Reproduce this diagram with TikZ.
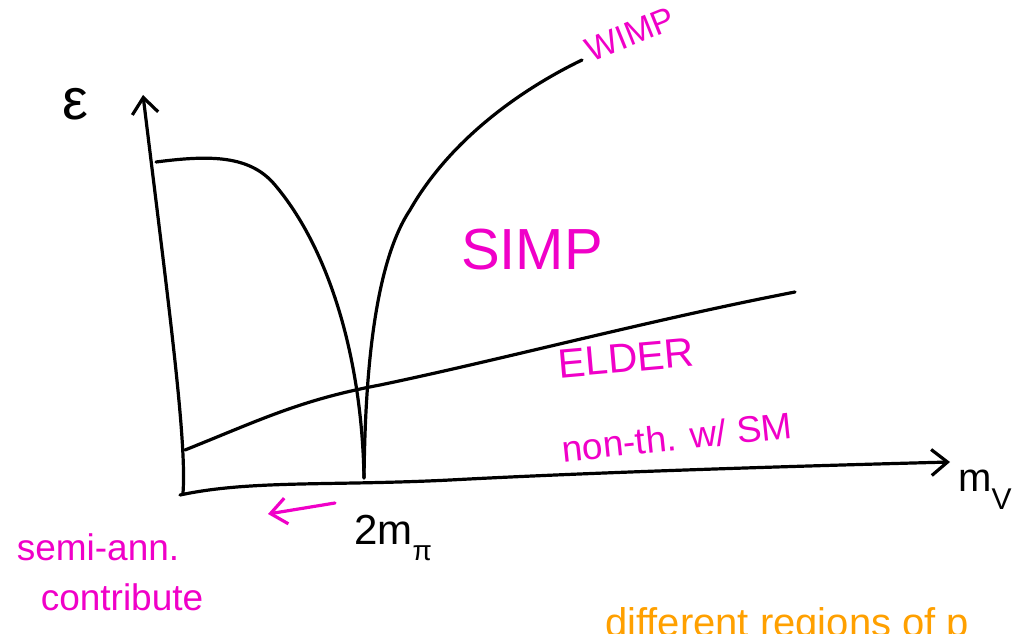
\documentclass[tikz,border=0pt]{standalone}
\usepackage{fontspec}
\setmainfont{Liberation Sans}
\usetikzlibrary{arrows.meta}
\definecolor{inkpink}{RGB}{240,0,200}
\definecolor{inkorange}{RGB}{255,160,0}
\begin{document}
\begin{tikzpicture}[x=1pt,y=-1pt,
  ink/.style={line width=3.2pt, line cap=round, line join=round},
  tip/.style={-{Straight Barb[length=16pt,width=26pt,line width=3.2pt]}},
  lab/.style={text=inkpink, inner sep=0pt},
  big/.style={font=\fontsize{#1}{#1}\selectfont}]
\useasboundingbox (0,0) rectangle (1029,634);
\clip (0,0) rectangle (1029,634);
% axes
\coordinate (O) at (183,493);
\coordinate (ytip) at (143,95);
\coordinate (xstart) at (180,495);
\coordinate (xtip) at (950,462);
\draw[ink,tip] (O) .. controls (187,440) and (168,300) .. (ytip);
\draw[ink,tip] (xstart) .. controls (250,480) and (330,486) .. (450,480) .. controls (600,472) and (800,466) .. (xtip);
% curves
\coordinate (top) at (156,162);
\coordinate (meet) at (364,478);
\coordinate (wimpend) at (582,60);
\coordinate (elderstart) at (185,450);
\coordinate (elderend) at (795,292);
\draw[ink] (top) .. controls (210,155) and (250,155) .. (275,185) .. controls (330,250) and (362,360) .. (meet);
\draw[ink] (meet) .. controls (365,400) and (370,270) .. (410,210) .. controls (450,140) and (520,90) .. (wimpend);
\draw[ink] (elderstart) .. controls (260,420) and (300,400) .. (380,385) .. controls (500,360) and (650,320) .. (elderend);
% labels
\node[big=58,inner sep=0pt] (eps) at (75,104) {ε};
\node[big=40,inner sep=0pt] (mv) at (985,490) {m\raisebox{-0.45em}{\fontsize{30}{30}\selectfont V}};
\node[big=42,inner sep=0pt] (twom) at (393,538) {2m\raisebox{-0.4em}{\fontsize{28}{28}\selectfont π}};
\node[lab,big=34,rotate=22] (wimp) at (630,34) {WIMP};
\node[lab,big=58] (simp) at (532,250) {SIMP};
\node[lab,big=41,rotate=5] (elder) at (626,358) {ELDER};
\node[lab,big=37,rotate=6] (nonth) at (677,437) {non-th. w/ SM};
\node[lab,big=37] (semi) at (98,547) {semi-ann.};
\node[lab,big=37] (contr) at (122,597) {contribute};
\node[text=inkorange,inner sep=0pt,anchor=base west,big=40] (diff) at (605,636) {different regions of p};
% magenta arrow
\coordinate (a1) at (335,503);
\coordinate (a2) at (268,514);
\draw[ink,draw=inkpink,tip] (a1) -- (a2);
\end{tikzpicture}
\end{document}
